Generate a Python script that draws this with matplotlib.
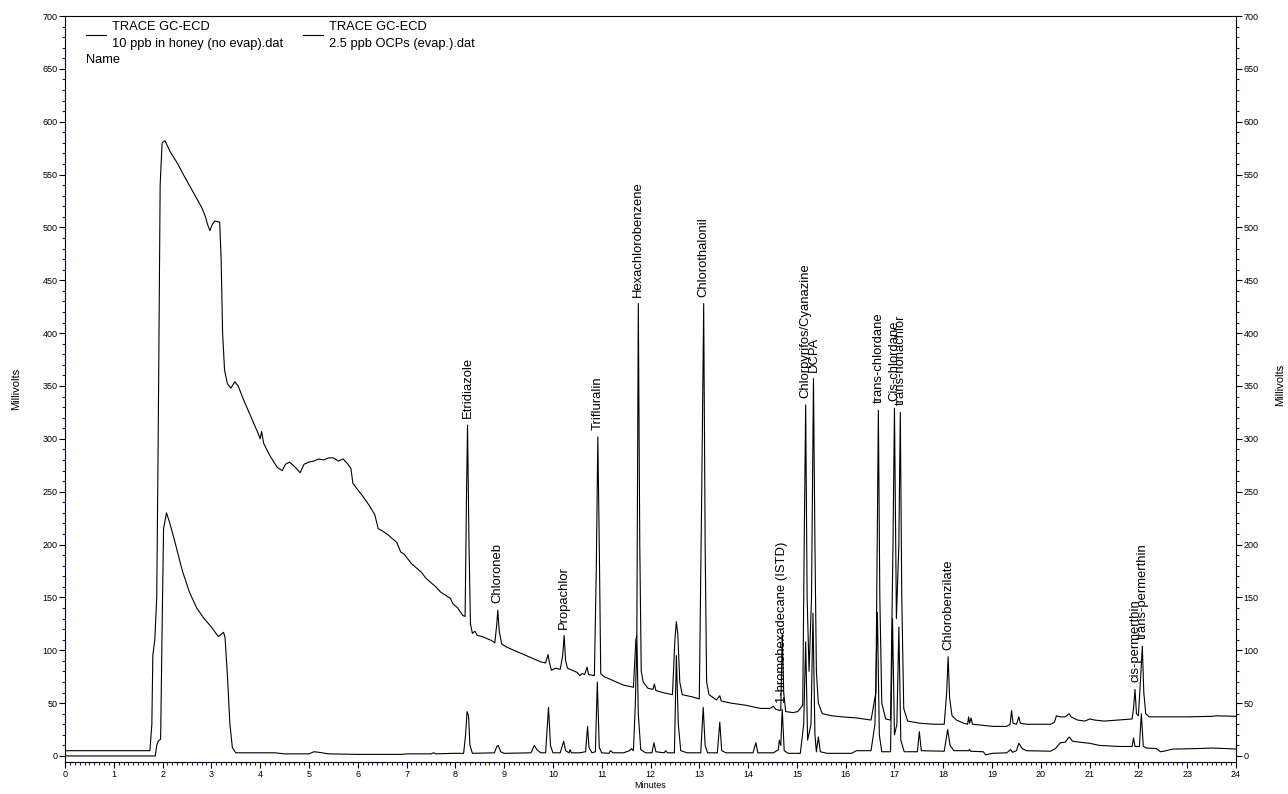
import matplotlib
matplotlib.use("Agg")
import matplotlib.pyplot as plt
from matplotlib.ticker import MultipleLocator

# ---------------- data ----------------
# Trace A: "10 ppb in honey (no evap).dat"  (upper trace)
time_a = [0, 1.74, 1.78, 1.80, 1.84, 1.88, 1.91, 1.95, 1.99, 2.05, 2.15, 2.3, 2.45, 2.63, 2.8, 2.88,
          2.92, 2.97, 3.02, 3.07, 3.17, 3.2, 3.23, 3.27, 3.33, 3.4, 3.48, 3.55, 3.65, 3.8, 3.95, 4.0,
          4.03, 4.07, 4.2, 4.35, 4.45, 4.52, 4.6, 4.7, 4.82, 4.9, 5.0, 5.1, 5.2, 5.3, 5.4, 5.5, 5.6,
          5.7, 5.8, 5.86, 5.9, 5.98, 6.1, 6.25, 6.35, 6.42, 6.5, 6.6, 6.7, 6.8, 6.88, 6.95, 7.1, 7.2,
          7.3, 7.4, 7.5, 7.6, 7.7, 7.8, 7.9,
          7.95, 8.05, 8.15, 8.20, 8.23, 8.25, 8.28, 8.31, 8.35, 8.40, 8.45, 8.55, 8.65, 8.75, 8.81,
          8.85, 8.87, 8.90, 8.95, 9.05, 9.15, 9.30, 9.45, 9.55, 9.65, 9.75, 9.85, 9.90, 9.93, 9.97,
          10.05, 10.15, 10.20, 10.23, 10.26, 10.30, 10.40, 10.50, 10.55, 10.60, 10.65, 10.70, 10.73,
          10.85, 10.89, 10.92, 10.95, 10.98, 11.05, 11.25, 11.45, 11.65, 11.70, 11.72, 11.75, 11.78,
          11.81, 11.85, 11.95, 12.05, 12.08, 12.11, 12.25, 12.45, 12.50, 12.53, 12.56, 12.60, 12.65,
          12.85, 13.00, 13.05, 13.09, 13.12, 13.15, 13.20, 13.35, 13.42, 13.45, 13.65, 13.95, 14.25,
          14.45,
          14.52, 14.57, 14.67, 14.70, 14.73, 14.77, 14.92, 15.02, 15.12, 15.15, 15.18, 15.21, 15.25,
          15.30, 15.34, 15.37, 15.40, 15.44, 15.52, 15.72, 15.92, 16.22, 16.52, 16.62, 16.67, 16.70,
          16.74, 16.82, 16.92, 16.97, 17.00, 17.04, 17.09, 17.12, 17.15, 17.19, 17.27, 17.52, 17.82,
          18.02, 18.07, 18.10, 18.13, 18.18, 18.27, 18.42, 18.50, 18.52, 18.54, 18.57, 18.60, 18.82,
          19.0, 19.3, 19.37, 19.40, 19.43, 19.50, 19.55, 19.58, 19.70, 19.90, 20.20, 20.28, 20.32,
          20.40, 20.50, 20.58, 20.62, 20.75, 20.90, 21.00, 21.10, 21.30, 21.60,
          21.87, 21.90, 21.93, 21.96, 22.00, 22.04, 22.08, 22.11, 22.15, 22.22, 22.47, 23.0, 23.5,
          23.6, 24.0]
mv_a = [5, 5, 30, 95, 110, 150, 300, 540, 580, 582, 572, 561, 548, 533, 519, 510,
        503, 497, 503, 506, 505, 470, 400, 365, 352, 348, 354, 350, 338, 322, 306, 300,
        307, 296, 284, 273, 270, 276, 278, 274, 268, 276, 278, 279, 281, 280, 282, 282, 279,
        281, 276, 272, 258, 253, 246, 236, 228, 215, 213, 210, 206, 202, 193, 191, 182, 178,
        174, 168, 164, 160, 155, 152, 149,
        144, 140, 133, 132, 250, 313, 200, 125, 116, 118, 114, 113, 111, 109, 107,
        125, 138, 118, 106, 103, 101, 98, 95, 93, 91, 89, 88, 96, 88, 81,
        83, 82, 95, 114, 90, 83, 81, 79, 76, 78, 77, 84, 77,
        76, 180, 302, 200, 78, 75, 71, 67, 65, 110, 114, 428, 200,
        80, 70, 64, 63, 68, 62, 60, 58, 110, 127, 115, 70, 58,
        56, 54, 250, 428, 200, 70, 58, 53, 57, 52, 50, 48, 45,
        45,
        47, 44, 43, 116, 60, 42, 41, 42, 48, 200, 332, 150, 80,
        150, 357, 200, 80, 50, 40, 38, 37, 36, 34, 60, 327, 150,
        50, 35, 34, 200, 329, 130, 200, 325, 150, 45, 33, 31, 30,
        30, 60, 94, 55, 38, 34, 31, 30, 37, 31, 36, 30, 29,
        28, 28, 30, 43, 31, 30, 37, 31, 30, 30, 30, 32, 38,
        37, 37, 40, 37, 34, 33, 35, 34, 33, 34,
        35, 45, 63, 40, 38, 70, 104, 60, 40, 37, 37, 37, 37.5,
        38, 37.5]

# Trace B: "2.5 ppb OCPs (evap.).dat"  (lower trace)
time_b = [0, 1.85, 1.88, 1.91, 1.96, 1.99, 2.02, 2.08, 2.15, 2.25, 2.4, 2.55, 2.7, 2.85, 3.0, 3.14,
          3.2, 3.25, 3.28, 3.33, 3.38, 3.43, 3.5, 3.7, 4.0, 4.3, 4.5, 5.0, 5.1, 5.2, 5.4, 6.0, 6.9,
          7.0, 7.5, 7.55, 7.6,
          7.95, 8.17, 8.21, 8.24, 8.27, 8.30, 8.35, 8.80, 8.85, 8.88, 8.93, 9.00, 9.55, 9.62, 9.67,
          9.75, 9.85, 9.91, 9.95, 10.00, 10.15, 10.22, 10.26, 10.33, 10.35, 10.38, 10.55, 10.67,
          10.71, 10.74, 10.80, 10.87, 10.91, 10.95, 11.00, 11.15, 11.18, 11.23, 11.45, 11.57, 11.61,
          11.65, 11.69, 11.72, 11.75, 11.80, 11.90, 12.03, 12.07, 12.11, 12.28, 12.31, 12.35, 12.49,
          12.53, 12.57, 12.62, 12.75, 13.03, 13.08, 13.12, 13.17, 13.37, 13.42, 13.46, 13.55, 14.10,
          14.16, 14.20,
          14.52, 14.62, 14.64, 14.67, 14.70, 14.74, 14.82, 15.07, 15.14, 15.18, 15.22, 15.29, 15.33,
          15.37, 15.40, 15.44, 15.48, 15.62, 16.12, 16.22, 16.52, 16.60, 16.65, 16.69, 16.74, 16.92,
          16.96, 17.00, 17.05, 17.09, 17.13, 17.20, 17.47, 17.51, 17.55, 18.02, 18.09, 18.14, 18.22,
          18.52, 18.54, 18.56, 18.82, 18.87,
          19.0, 19.3, 19.38, 19.42, 19.50, 19.55, 19.62, 19.70, 20.20, 20.30, 20.40, 20.50, 20.58,
          20.65, 20.80, 21.00, 21.20, 21.60,
          21.87, 21.90, 21.93, 22.02, 22.06, 22.10, 22.17, 22.37, 22.45, 22.52, 22.7, 23.2, 23.5,
          23.8, 24.0]
mv_b = [0, 0, 10, 14, 16, 120, 215, 230, 220, 203, 176, 155, 140, 130, 122, 113,
        115, 117, 112, 75, 30, 8, 3, 3, 3, 3, 2, 2, 4, 3.5, 2, 1.5, 1.5,
        2, 2, 3, 2,
        2.5, 2.5, 20, 42, 38, 10, 2.5, 3, 9, 10, 4, 2.5, 3, 10, 6,
        3, 3, 46, 10, 3, 3, 14, 5, 3, 6, 3, 3, 4,
        28, 8, 3, 4, 70, 8, 3, 2.5, 5, 3, 3, 5, 7,
        5, 50, 114, 40, 6, 3, 3, 12.5, 4, 3, 5, 3, 3,
        95, 30, 5, 3, 3, 46, 10, 3, 3, 32, 5, 3, 3,
        12.5, 3,
        3, 6, 15, 10, 44, 5, 2.5, 2.5, 30, 108, 15, 30, 135,
        20, 4, 18, 4, 2.5, 2.5, 5, 5, 30, 136, 20, 4, 4,
        130, 20, 30, 122, 15, 4, 4, 23, 5, 4.5, 25, 10, 5,
        5, 6, 4.5, 4, 1,
        2.5, 3, 6, 3.5, 5, 12, 7, 5, 4.5, 7, 12.5, 13, 18,
        14, 13, 12, 10, 9,
        9, 17, 9, 9, 40, 9, 7.5, 7, 4, 4.5, 6.5, 7, 7.5,
        7, 6.5]

# Identified peaks: name, retention time (min), peak top the label sits on (mV)
peak_names = ["Etridiazole", "Chloroneb", "Propachlor", "Trifluralin", "Hexachlorobenzene",
              "Chlorothalonil", "1-bromohexadecane (ISTD)", "Chlorpyrifos/Cyanazine", "DCPA",
              "trans-chlordane", "Cis-chlordane", "trans-nonachlor", "Chlorobenzilate",
              "cis-permerthin", "trans-permerthin"]
peak_rt = [8.25, 8.87, 10.23, 10.92, 11.75, 13.09, 14.70, 15.18, 15.34, 16.67, 17.00, 17.12,
           18.10, 21.93, 22.08]
peak_top = [313, 138, 114, 302, 428, 428, 44, 332, 357, 327, 329, 325, 94, 63, 104]

legend_titles = ["TRACE GC-ECD", "TRACE GC-ECD"]
legend_files = ["10 ppb in honey (no evap).dat", "2.5 ppb OCPs (evap.).dat"]

x_ticks = list(range(0, 25))
y_ticks = list(range(0, 701, 50))

# ---------------- figure ----------------
plt.rcParams['font.family'] = ['Liberation Sans', 'DejaVu Sans']
W, H = 1288, 794
fig = plt.figure(figsize=(W / 100, H / 100), dpi=100)
ax = fig.add_axes([65 / W, 1 - 762 / H, (1236 - 65) / W, (762 - 16) / H])

ax.plot(time_a, mv_a, color='black', lw=0.8)
ax.plot(time_b, mv_b, color='black', lw=0.8)

ax.set_xlim(0, 24)
ax.set_ylim(-5.7, 700)
ax.set_xticks(x_ticks)
ax.set_yticks(y_ticks)
ax.xaxis.set_minor_locator(MultipleLocator(0.1))
ax.yaxis.set_minor_locator(MultipleLocator(10))
ax.yaxis.set_ticks_position('both')
ax.tick_params(axis='both', which='major', direction='out', length=4, width=0.8,
               labelsize=6.5, colors='black', pad=1.5)
ax.tick_params(axis='both', which='minor', direction='out', length=2.2, width=0.8,
               color='#1a1a8c')
ax.tick_params(axis='y', labelright=True)
for s in ax.spines.values():
    s.set_linewidth(0.8)

ax.set_xlabel("Minutes", fontsize=6.5, labelpad=2)
ax.set_ylabel("Millivolts", fontsize=8, labelpad=15)
fig.text(1280 / W, 1 - 385 / H, "Millivolts", rotation=90, fontsize=8,
         ha='center', va='center')

# peak labels
for name, rt, top in zip(peak_names, peak_rt, peak_top):
    ax.annotate(name, xy=(rt, top), xytext=(0, 5), textcoords='offset points',
                rotation=90, ha='center', va='bottom', fontsize=9.4)

# legend (drawn as in the data system header)
for i, (t1, t2) in enumerate(zip(legend_titles, legend_files)):
    x0 = [86, 303][i]
    fig.lines.append(plt.Line2D([x0 / W, (x0 + 20) / W], [1 - 35 / H, 1 - 35 / H],
                                color='black', lw=0.8, transform=fig.transFigure))
    fig.text((x0 + 26) / W, 1 - 27 / H, t1, fontsize=9.3, va='center', ha='left')
    fig.text((x0 + 26) / W, 1 - 44 / H, t2, fontsize=9.3, va='center', ha='left')
fig.text(86 / W, 1 - 60 / H, "Name", fontsize=9.3, va='center', ha='left')

fig.savefig("out.png", dpi=100)
